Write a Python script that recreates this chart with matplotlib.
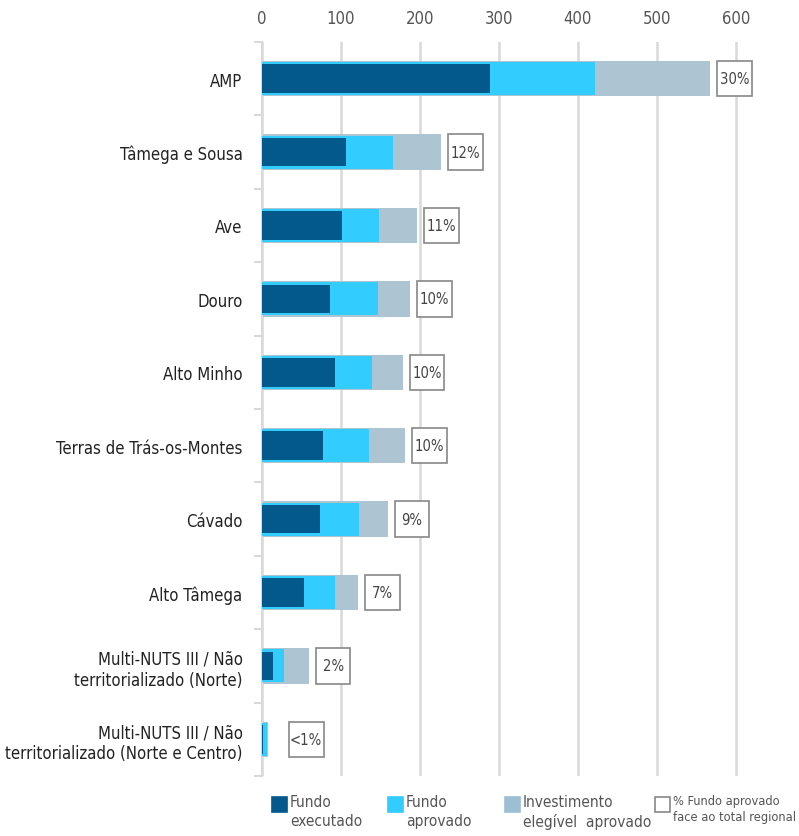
import matplotlib.pyplot as plt
from matplotlib.patches import Rectangle
from matplotlib import font_manager
import numpy as np

regions = ["AMP", "Tâmega e Sousa", "Ave", "Douro", "Alto Minho",
           "Terras de Trás-os-Montes", "Cávado", "Alto Tâmega",
           "Multi-NUTS III / Não\nterritorializado (Norte)",
           "Multi-NUTS III / Não\nterritorializado (Norte e Centro)"]
investimento = [567, 227, 196, 187, 178, 181, 159, 122, 59, 7]
fundo_aprovado = [421, 166, 148, 147, 139, 135, 123, 92, 28, 6]
fundo_executado = [289, 106, 101, 86, 92, 77, 73, 53, 14, 1]
pct_labels = ["30%", "12%", "11%", "10%", "10%", "10%", "9%", "7%", "2%", "<1%"]
xticks = [0, 100, 200, 300, 400, 500, 600]

legend_labels = ["Fundo\nexecutado", "Fundo\naprovado",
                 "Investimento\nelegível  aprovado",
                 "% Fundo aprovado\nface ao total regional"]

c_exec = "#03588C"
c_aprov = "#33CCFF"
c_inv = "#ADC4D3"
c_grid = "#D9D9D9"

# pick a narrow font if one is there
fonts = font_manager.fontManager.ttflist
names = {f.name for f in fonts}
dejavu_cond = [f for f in fonts if f.name == "DejaVu Sans" and "ondensed" in f.fname]
if "Liberation Sans Narrow" in names:
    plt.rcParams['font.family'] = ['Liberation Sans Narrow', 'DejaVu Sans']
    scale = 1.0
elif dejavu_cond:
    plt.rcParams['font.family'] = ['DejaVu Sans']
    plt.rcParams['font.stretch'] = dejavu_cond[0].stretch
    scale = 0.92
else:
    plt.rcParams['font.family'] = ['Roboto', 'DejaVu Sans']
    scale = 0.85

fig = plt.figure(figsize=(7.99, 8.37), dpi=100)
W, H = 799, 837
ax = fig.add_axes([262 / W, 1 - 777 / H, 537 / W, (777 - 43) / H])

y = np.arange(len(regions))
ax.barh(y, investimento, height=0.48, color=c_inv, zorder=2)
ax.barh(y, fundo_aprovado, height=0.45, color=c_aprov, zorder=3)
ax.barh(y, fundo_executado, height=0.39, color=c_exec, zorder=4)

# percentage boxes, just right of each bar
box_w, box_h, gap = 44, 0.48, 9
for i, (v, lab) in enumerate(zip(investimento, pct_labels)):
    x0 = max(v, 25) + gap
    ax.add_patch(Rectangle((x0, i - box_h / 2), box_w, box_h, fc="white",
                           ec="#888888", lw=1.2, zorder=5))
    ax.text(x0 + box_w / 2, i, lab, ha="center", va="center",
            fontsize=11.5 * scale, color="#444444", zorder=6)

ax.set_xlim(0, 537 / 0.79)
ax.set_ylim(len(regions) - 0.5, -0.5)
ax.set_xticks(xticks)
ax.xaxis.tick_top()
ax.tick_params(axis="x", length=0, pad=11, labelsize=13 * scale, labelcolor="#555555")
ax.set_yticks(y)
ax.set_yticklabels(regions, fontsize=13 * scale, color="#222222", ha="right")
ax.set_yticks(np.arange(len(regions) + 1) - 0.5, minor=True)
ax.tick_params(axis="y", which="major", length=0, pad=14)
ax.tick_params(axis="y", which="minor", length=6, width=1.5, color=c_grid)
for line in ax.get_yticklabels():
    line.set_multialignment("right")

ax.grid(axis="x", color=c_grid, lw=1.8, zorder=0)
for s in ["top", "right", "bottom"]:
    ax.spines[s].set_visible(False)
ax.spines["left"].set_color(c_grid)
ax.spines["left"].set_linewidth(1.5)
ax.set_axisbelow(True)

# legend
colors = [c_exec, c_aprov, "#9DBFD4", "white"]
xs = [272, 388, 505, 655]
for xp, col, lab in zip(xs, colors, legend_labels):
    ec = "#888888" if col == "white" else col
    fig.patches.append(Rectangle((xp / W, 1 - 813 / H), 15 / W, 15 / H, fc=col, ec=ec,
                                 lw=1.2, transform=fig.transFigure, figure=fig))
    fs = 10 if col == "white" else 12
    fig.text((xp + 18) / W, 1 - 795 / H, lab, fontsize=fs * scale, color="#555555",
             va="top", ha="left", linespacing=1.3)

fig.savefig("out.png", dpi=100)
